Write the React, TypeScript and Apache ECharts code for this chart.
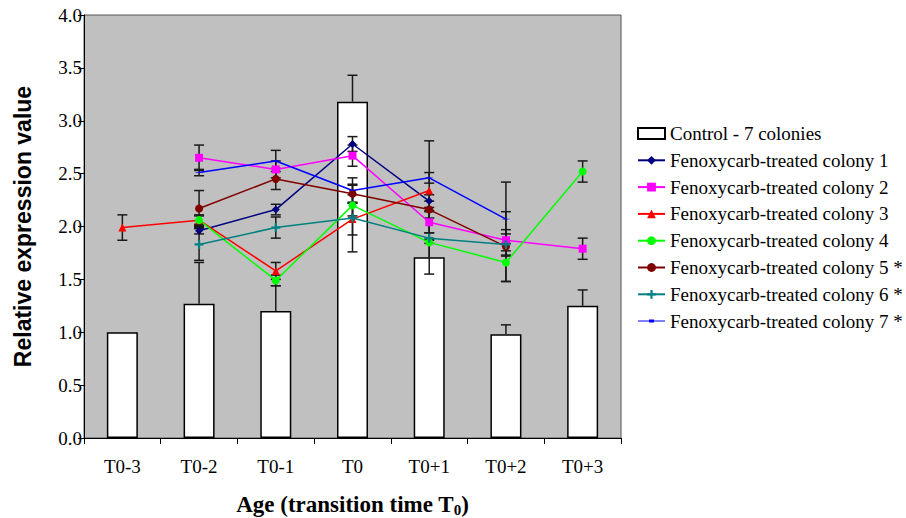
import React, { useEffect, useRef } from "react";
import * as echarts from "echarts";

const categories = ["T0-3", "T0-2", "T0-1", "T0", "T0+1", "T0+2", "T0+3"];
const yTicks = [0, 0.5, 1, 1.5, 2, 2.5, 3, 3.5, 4];

const controlName = "Control - 7 colonies";
const controlValues = [1.0, 1.27, 1.2, 3.18, 1.71, 0.98, 1.25];
const controlErr = [0, 0.39, 0.24, 0.25, 0.17, 0.09, 0.15];

const colonyNames = [
  "Fenoxycarb-treated colony 1",
  "Fenoxycarb-treated colony 2",
  "Fenoxycarb-treated colony 3",
  "Fenoxycarb-treated colony 4",
  "Fenoxycarb-treated colony 5 *",
  "Fenoxycarb-treated colony 6 *",
  "Fenoxycarb-treated colony 7 *",
];
const colony1 = [null, 1.96, 2.16, 2.78, 2.24, null, null];
const colony1Err = [null, 0.03, 0.05, 0.07, 0.06, null, null];
const colony2 = [null, 2.65, 2.54, 2.67, 2.04, 1.87, 1.79];
const colony2Err = [null, 0.12, 0.08, 0.1, 0.1, 0.1, 0.1];
const colony3 = [1.99, 2.06, 1.58, 2.07, 2.34, null, null];
const colony3Err = [0.12, 0.05, 0.08, 0.15, 0.47, null, null];
const colony4 = [null, 2.06, 1.49, 2.2, 1.85, 1.66, 2.52];
const colony4Err = [null, 0.04, 0.05, 0.1, 0.3, 0.18, 0.1];
const colony5 = [null, 2.17, 2.45, 2.31, 2.16, 1.81, null];
const colony5Err = [null, 0.17, 0.1, 0.08, 0.08, 0.33, null];
const colony6 = [null, 1.83, 1.99, 2.08, 1.89, 1.83, null];
const colony6Err = [null, 0.15, 0.1, 0.32, 0.05, 0.1, null];
const colony7 = [null, 2.51, 2.62, 2.34, 2.46, 2.07, null];
const colony7Err = [null, 0.03, 0.1, 0.12, 0.05, 0.35, null];

const colonyValues = [colony1, colony2, colony3, colony4, colony5, colony6, colony7];
const colonyErrs = [colony1Err, colony2Err, colony3Err, colony4Err, colony5Err, colony6Err, colony7Err];
const colonyColors = ["#000080", "#FF00FF", "#FF0000", "#00FF00", "#800000", "#008080", "#0000FF"];
const colonySymbols: any[] = [
  "diamond",
  "rect",
  "triangle",
  "circle",
  "circle",
  "path://M3,0H5V3H8V5H5V8H3V5H0V3H3Z",
  "path://M0,0H6V2H0Z",
];
const colonySymbolSizes: any[] = [8, 8, 8, 8, 8, 9, [7, 2]];
const dashLegendIcon = "path://M0,1H11V0H16V1H27V2H16V3H11V2H0Z";

const SERIF = "'Liberation Serif', 'Times New Roman', serif";
const SANS = "'Liberation Sans', Arial, sans-serif";

function errorSeries(name: string, values: (number | null)[], errs: (number | null)[], plusOnly: boolean, z: number) {
  const data: any[] = [];
  values.forEach((v, i) => {
    const e = errs[i];
    if (v == null || e == null || e === 0) return;
    data.push([i, plusOnly ? v : v - e, v + e]);
  });
  return {
    type: "custom",
    name: name + " err",
    z,
    silent: true,
    data,
    renderItem: (params: any, api: any) => {
      const x = api.value(0);
      const lo = api.coord([x, api.value(1)]);
      const hi = api.coord([x, api.value(2)]);
      const cap = 5;
      const style = { stroke: "#1a1a1a", lineWidth: 1.5 };
      const children: any[] = [
        { type: "line", shape: { x1: lo[0], y1: lo[1], x2: hi[0], y2: hi[1] }, style },
        { type: "line", shape: { x1: hi[0] - cap, y1: hi[1], x2: hi[0] + cap, y2: hi[1] }, style },
      ];
      if (!plusOnly) {
        children.push({ type: "line", shape: { x1: lo[0] - cap, y1: lo[1], x2: lo[0] + cap, y2: lo[1] }, style });
      }
      return { type: "group", children };
    },
  };
}

export default function App() {
  const ref = useRef<HTMLDivElement>(null);
  useEffect(() => {
    if (!ref.current) return;
    const chart = echarts.init(ref.current, null, { renderer: "svg" });
    const series: any[] = [
      {
        type: "bar",
        name: controlName,
        data: controlValues,
        barWidth: 31,
        z: 2,
        itemStyle: { color: "#FFFFFF", borderColor: "#000000", borderWidth: 1.5 },
      },
      errorSeries(controlName, controlValues, controlErr, true, 3),
    ];
    colonyNames.forEach((n, k) => {
      series.push(errorSeries(n, colonyValues[k], colonyErrs[k], false, 3));
    });
    colonyNames.forEach((n, k) => {
      series.push({
        type: "line",
        name: n,
        data: colonyValues[k],
        z: 4,
        symbol: colonySymbols[k],
        symbolSize: colonySymbolSizes[k],
        symbolKeepAspect: true,
        showAllSymbol: true,
        lineStyle: { color: colonyColors[k], width: 1.5 },
        itemStyle: { color: colonyColors[k] },
      });
    });

    const legendData: any[] = [{ name: controlName, icon: "rect" }];
    colonyNames.forEach((n, k) => {
      legendData.push(k === 6 ? { name: n, icon: dashLegendIcon } : n);
    });

    chart.setOption({
      animation: false,
      grid: {
        left: 84,
        right: 285,
        top: 15,
        bottom: 80,
        outerBoundsMode: "none",
        containLabel: false,
        show: true,
        backgroundColor: "#C0C0C0",
        borderColor: "#555555",
        borderWidth: 1,
      },
      legend: {
        orient: "vertical",
        left: 637,
        top: 124,
        padding: 0,
        itemWidth: 27,
        itemHeight: 11,
        itemGap: 7.8,
        textStyle: { fontFamily: SERIF, fontSize: 19, color: "#000", lineHeight: 19 },
        data: legendData,
      },
      xAxis: {
        type: "category",
        data: categories,
        boundaryGap: true,
        axisLine: { lineStyle: { color: "#000", width: 1 } },
        axisTick: { show: true, length: 6, alignWithLabel: false, lineStyle: { color: "#000" } },
        axisLabel: { fontFamily: SERIF, fontSize: 19, color: "#000", margin: 19 },
        name: "{a|Age (transition time T}{b|0}{a|)}",
        nameLocation: "middle",
        nameGap: 54,
        nameTextStyle: {
          rich: {
            a: { fontFamily: SERIF, fontSize: 23, fontWeight: "bold", color: "#000" },
            b: { fontFamily: SERIF, fontSize: 15, fontWeight: "bold", color: "#000", padding: [10, 0, 0, 0] },
          },
        },
      },
      yAxis: {
        type: "value",
        min: 0,
        max: 4,
        interval: 0.5,
        splitLine: { show: false },
        axisLine: { show: true, lineStyle: { color: "#000", width: 1 } },
        axisTick: { show: true, length: 6, lineStyle: { color: "#000" } },
        axisLabel: {
          fontFamily: SERIF,
          fontSize: 19,
          color: "#000",
          margin: 2,
          formatter: (v: number) => (yTicks.includes(v) ? v.toFixed(1) : ""),
        },
        name: "Relative expression value",
        nameLocation: "middle",
        nameGap: 50,
        nameTextStyle: { fontFamily: SANS, fontSize: 23, fontWeight: "bold", color: "#000" },
      },
      series,
    });
    return () => chart.dispose();
  }, []);
  return (
    <div
      ref={ref}
      style={{ position: "fixed", left: 0, top: 0, width: 906, height: 518, background: "#fff" }}
    />
  );
}
